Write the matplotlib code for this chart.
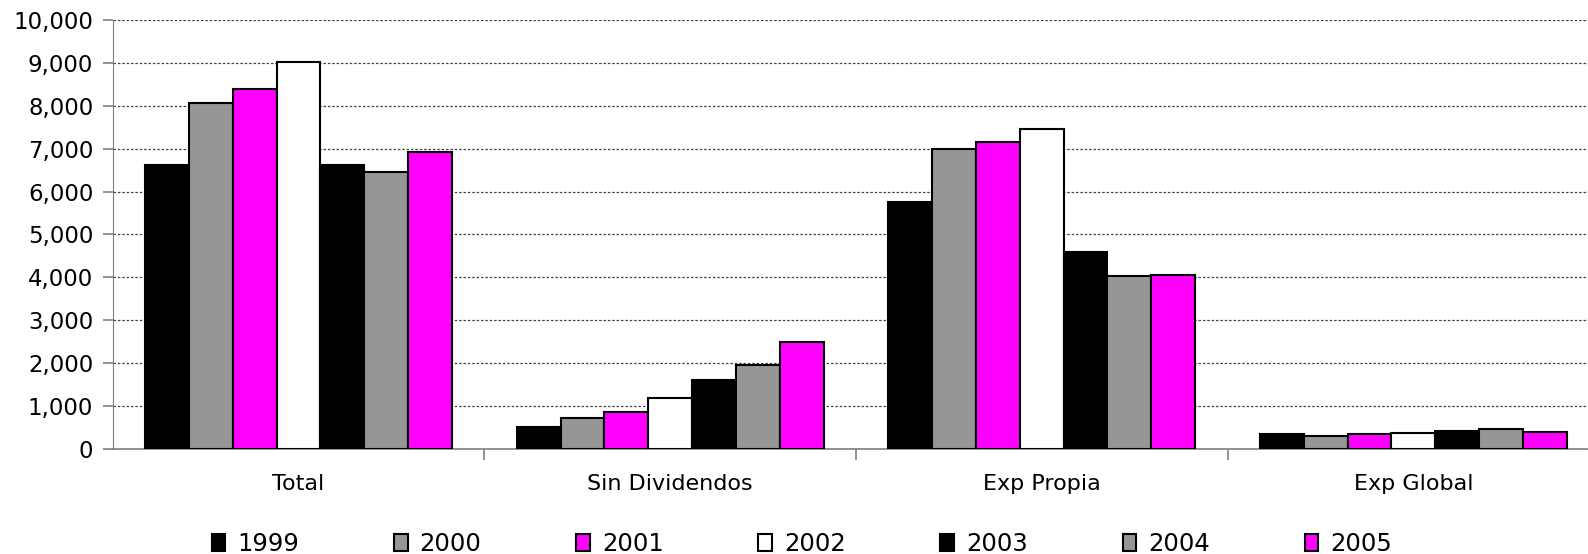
import matplotlib
matplotlib.use("Agg")
import matplotlib.pyplot as plt
import matplotlib.patches as patches
import numpy as np

plt.rcParams['font.family'] = ['DejaVu Sans']

categorias = ["Total", "Sin Dividendos", "Exp Propia", "Exp Global"]
anios = ["1999", "2000", "2001", "2002", "2003", "2004", "2005"]
colores = ["#000000", "#969696", "#FF00FF", "#FFFFFF", "#000000", "#969696", "#FF00FF"]

# valores por anio : Total, Sin Dividendos, Exp Propia, Exp Global
v1999 = [6620, 520, 5765, 342]
v2000 = [8058, 730, 6986, 303]
v2001 = [8385, 855, 7156, 357]
v2002 = [9021, 1181, 7452, 380]
v2003 = [6620, 1608, 4599, 412]
v2004 = [6464, 1958, 4040, 466]
v2005 = [6930, 2501, 4063, 389]
valores = [v1999, v2000, v2001, v2002, v2003, v2004, v2005]

fig = plt.figure(figsize=(15.88, 5.54), dpi=100)
ax = fig.add_axes([0.071, 0.1895, 0.936, 0.7745])

largeur = 0.118
x = np.arange(len(categorias))
for i in range(len(anios)):
    decal = (i - 3) * largeur
    ax.bar(x + decal, valores[i], width=largeur, color=colores[i],
           edgecolor="black", linewidth=1.5, label=anios[i], zorder=3)

ax.set_xlim(-0.5, 3.5)
ax.set_ylim(0, 10000)
ax.set_yticks(np.arange(0, 10001, 1000))
ax.set_yticklabels(["{:,}".format(v) for v in range(0, 10001, 1000)], fontsize=16.5)
ax.yaxis.grid(True, linestyle=(0, (2, 1.5)), color="#444444", linewidth=0.9, zorder=0)

ax.set_xticks(x)
ax.set_xticklabels(categorias, fontsize=16)
ax.tick_params(axis="x", which="major", length=0, pad=18)
ax.set_xticks([0.5, 1.5, 2.5], minor=True)
ax.tick_params(axis="x", which="minor", length=8, color="#808080", width=1.2)
ax.tick_params(axis="y", length=7, color="#808080", width=1.2, pad=7)

for s in ["top", "right"]:
    ax.spines[s].set_visible(False)
ax.spines["left"].set_color("#808080")
ax.spines["bottom"].set_color("#808080")
ax.spines["bottom"].set_linewidth(1.2)

poignees = [patches.Patch(facecolor=c, edgecolor="black", linewidth=1.5) for c in colores]
fig.legend(poignees, anios, loc="center", bbox_to_anchor=(0.505, 0.018), ncol=7,
           frameon=False, fontsize=17.5, handlelength=0.55, handleheight=0.75,
           handletextpad=0.5, columnspacing=3.9)

fig.savefig("out.png", dpi=100)
